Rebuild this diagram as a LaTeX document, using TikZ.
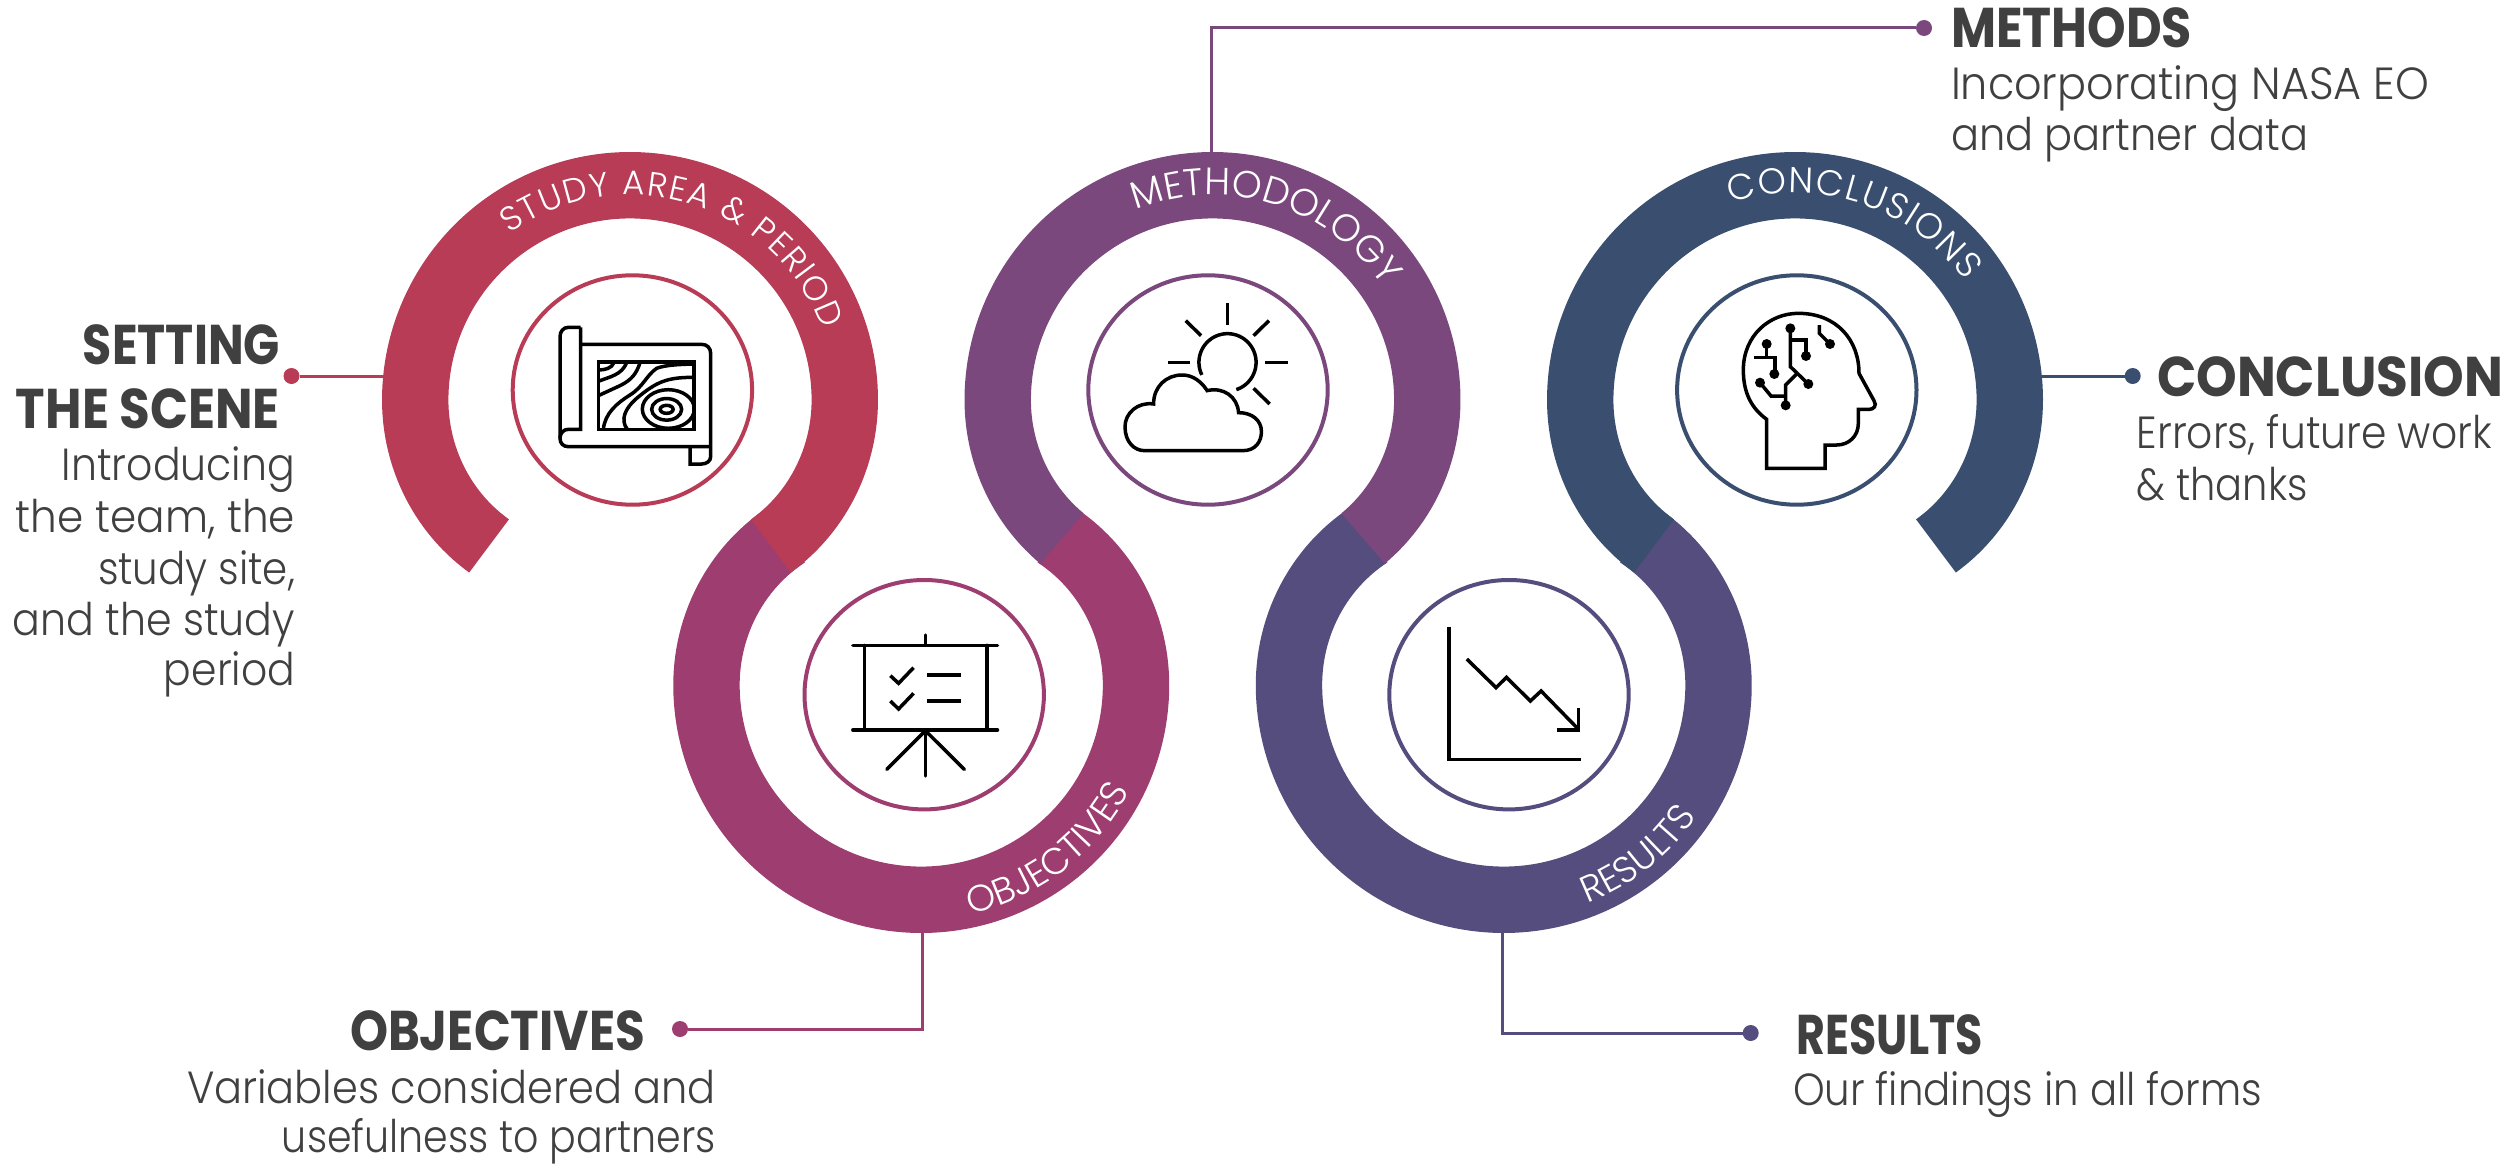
\documentclass[tikz,border=0pt]{standalone}
\usepackage{fontspec}
\usepackage{graphicx}
\usetikzlibrary{shapes.geometric,decorations.text}
\setmainfont{Poppins}
\newfontfamily\bodyfont{Poppins Light}
\newfontfamily\headfont{Poppins}[BoldFont={Poppins Bold}]
\newfontfamily\labelfont{Poppins Light}
\definecolor{cRed}{HTML}{B83C56}
\definecolor{cRose}{HTML}{9E3D6F}
\definecolor{cViolet}{HTML}{7B487D}
\definecolor{cIndigo}{HTML}{544D7D}
\definecolor{cNavy}{HTML}{3A4F70}
\definecolor{cText}{HTML}{404040}
% band: cx cy yscale colour left-end-angle right-end-angle
\newcommand\band[6]{%
 \begin{scope}[shift={(#1,#2)},yscale=#3]
 \draw[line width=66.4pt,color=#4,line cap=butt,line join=round]
  plot[domain={180-#5}:{360+#6},samples=160] ({rr(\x)*cos(\x)},{rr(\x)*sin(\x)});
 \end{scope}}
% curved label: size cx cy radius from to text
\newcommand\curved[7]{%
 \path[postaction={decorate,decoration={text along path,text align={fit to path},
   text={|\fontsize{#1}{#1}\labelfont\color{white}|#7}}}]
  plot[domain=#5:#6,samples=80] ({#2+#4*cos(\x)},{#3+#4*sin(\x)});}
\newcommand\head[2]{\resizebox{#1pt}{\height}{\fontsize{56}{56}\headfont\bfseries #2}}
\newcommand\bodyl[2]{\resizebox{#1pt}{\height}{\fontsize{45}{45}\bodyfont #2}}
\tikzset{
 declare function={rr(\t)=214.8-11.1*(max(0,(\t-360)/44.4))^2-11.1*(max(0,(180-\t)/44.4))^2;},
 iconring/.style={ellipse,draw=#1,line width=4pt,inner sep=0pt,outer sep=0pt,minimum width=239.4pt,minimum height=229.4pt,fill=white},
 conn/.style={line width=3pt,color=#1},
 pin/.style={circle,fill=#1,inner sep=0pt,outer sep=0pt,minimum size=16pt},
 txtW/.style={anchor=base west,inner sep=0pt,outer sep=0pt,text=cText},
 txtE/.style={anchor=base east,inner sep=0pt,outer sep=0pt,text=cText},
 ico/.style={line width=3.5pt,color=black,line join=miter},
}
\begin{document}
\begin{tikzpicture}[x=1pt,y=-1pt]
\useasboundingbox (0,0) rectangle (2512,1164);
% anchors on the bands
\coordinate (aS) at (386,376);
\coordinate (aM) at (1211.5,155);
\coordinate (aC) at (2040,376);
\coordinate (aO) at (922.5,930);
\coordinate (aR) at (1502.5,930);
% pins
\node[pin=cRed] (pS) at (291.5,376) {};
\node[pin=cViolet] (pM) at (1924,28) {};
\node[pin=cNavy] (pC) at (2132.7,376) {};
\node[pin=cRose] (pO) at (680,1029) {};
\node[pin=cIndigo] (pR) at (1750.7,1033) {};
% connectors
\draw[conn=cRed] (pS) -- (aS);
\draw[conn=cViolet] (aM) |- (pM);
\draw[conn=cNavy] (aC) -- (pC);
\draw[conn=cRose] (aO) |- (pO);
\draw[conn=cIndigo] (aR) |- (pR);
% bands
\band{921.25}{685}{-1}{cRose}{48}{48}
\band{1503.75}{685}{-1}{cIndigo}{48}{48}
\band{630}{400}{1}{cRed}{46}{46}
\band{1212.5}{400}{1}{cViolet}{42.6}{42.6}
\band{1795}{400}{1}{cNavy}{46}{46}
% curved labels
\curved{34}{630}{400}{205}{-126}{-20}{STUDY AREA {\&} PERIOD}
\curved{38}{1212.5}{400}{205}{-112}{-34}{METHODOLOGY}
\curved{36}{1795}{400}{207}{-108}{-35}{CONCLUSIONS}
\curved{37}{921.25}{685}{234}{78}{27}{OBJECTIVES}
\curved{37}{1503.75}{685}{234}{69}{34.5}{RESULTS}
% icon rings
\node[iconring=cRed] (i1) at (632.4,390) {};
\node[iconring=cRose] (i2) at (924.2,694.7) {};
\node[iconring=cViolet] (i3) at (1208,390) {};
\node[iconring=cIndigo] (i4) at (1509,694.7) {};
\node[iconring=cNavy] (i5) at (1796.8,390) {};
% map icon
\begin{scope}[shift={(430,200)},x=.33333pt,y=-.33333pt]
 \begin{scope}
  \clip (505,486) rectangle (790,688);
  \draw[ico] (505,510) .. controls (525,510) and (545,505) .. (552,488);
  \draw[ico] (505,544) .. controls (540,530) and (575,525) .. (590,488);
  \draw[ico] (505,587) -- (570,557) .. controls (605,540) and (620,520) .. (630,488);
  \draw[ico] (520,688) .. controls (525,640) and (560,610) .. (600,585)
     .. controls (640,560) and (650,525) .. (680,505) .. controls (705,495) and (750,493) .. (792,492);
  \draw[ico] (592,688) .. controls (570,660) and (585,625) .. (620,595)
     .. controls (680,545) and (710,532) .. (792,532);
  \draw[ico] (715,627) circle[x radius=26pt,y radius=19.3pt];
  \draw[ico] (710,628) circle[x radius=15pt,y radius=10.8pt];
  \draw[ico] (710,628) circle[x radius=6.5pt,y radius=4pt];
 \end{scope}
 \draw[ico] (505,486) rectangle (792,688);
 \draw[ico] (452,382) -- (415,382) .. controls (400,382) and (390,395) .. (390,410) -- (390,715)
   .. controls (390,730) and (400,740) .. (415,740) -- (842,740);
 \draw[ico] (452,382) -- (452,688) -- (415,688) .. controls (400,688) and (390,700) .. (390,715);
 \draw[ico] (452,433) -- (815,433) .. controls (832,433) and (842,445) .. (842,460) -- (842,770)
   .. controls (842,783) and (830,792) .. (815,792) -- (780,792) -- (780,740);
\end{scope}
% easel icon
\begin{scope}[shift={(660,500)},x=.35714pt,y=-.33333pt,line cap=round]
 \draw[ico] (540,436) -- (945,436);
 \draw[ico] (743,405) -- (743,436);
 \draw[ico] (573,436) -- (573,690);
 \draw[ico] (915,436) -- (915,690);
 \draw[ico] (540,690) -- (945,690);
 \draw[ico] (743,692) -- (743,828);
 \draw[ico] (743,692) -- (635,808);
 \draw[ico] (743,692) -- (852,808);
 \draw[ico,line cap=butt] (645,527) -- (668,550) -- (710,503);
 \draw[ico,line cap=butt] (645,603) -- (668,627) -- (710,580);
 \draw[ico,line cap=butt] (748,525) -- (843,525);
 \draw[ico,line cap=butt] (748,603) -- (843,603);
\end{scope}
% cloud icon
\begin{scope}[shift={(950,130)},x=.35714pt,y=-.33333pt]
 \draw[ico] (777,520) -- (777,585);
 \draw[ico] (660,572) -- (703,617);
 \draw[ico] (893,572) -- (850,617);
 \draw[ico] (610,697) -- (672,697);
 \draw[ico] (882,698) -- (945,698);
 \draw[ico] (850,775) -- (895,822);
 \draw[ico] plot[domain=154:432,samples=60] ({777+80*cos(\x)},{697+86*sin(\x)});
 \draw[ico] (545,962) -- (820,962) .. controls (855,962) and (872,935) .. (872,905)
   .. controls (872,870) and (845,848) .. (808,848) .. controls (805,800) and (765,770) .. (720,782)
   .. controls (695,740) and (665,735) .. (650,735) .. controls (605,735) and (570,770) .. (570,822)
   .. controls (525,815) and (490,850) .. (490,890) .. controls (490,935) and (515,962) .. (545,962) -- cycle;
\end{scope}
% chart icon
\begin{scope}[shift={(1240,500)},x=.35714pt,y=-.33333pt]
 \draw[ico] (585,380) -- (585,778) -- (955,778);
 \draw[ico] (635,477) -- (717,563) -- (746,532) -- (813,603) -- (843,573) -- (945,685);
 \draw[ico] (948,625) -- (948,690) -- (888,690);
\end{scope}
% head icon
\begin{scope}[shift={(1640,290)},x=.33333pt,y=-.33333pt]
 \draw[ico] (380,535) -- (380,388) .. controls (335,355) and (310,310) .. (310,240)
   .. controls (310,135) and (390,70) .. (475,70) .. controls (590,70) and (657,150) .. (657,250)
   -- (702,332) .. controls (712,348) and (700,358) .. (688,358) -- (655,358) -- (655,400)
   .. controls (655,440) and (625,465) .. (590,465) -- (555,465) -- (555,535) -- cycle;
 \begin{scope}[line width=2.8pt]
 \draw[ico] (451,115) -- (451,230) -- (505,282);
 \draw[ico] (451,150) -- (498,150) -- (498,198);
 \draw[ico] (470,252) -- (437,285) -- (437,346);
 \draw[ico] (437,318) -- (393,318) -- (360,278);
 \draw[ico] (380,162) -- (380,203);
 \draw[ico] (342,203) -- (405,203) -- (405,252);
 \draw[ico] (538,105) -- (538,130) -- (570,162);
 \end{scope}
 \foreach \dx/\dy in {451/115,505/282,498/198,437/346,360/278,380/162,403/252,570/162}
  \fill[black] (\dx,\dy) circle[radius=5pt];
\end{scope}
% texts
\node[txtE] (t1a) at (280,364) {\head{197}{SETTING}};
\node[txtE] (t1b) at (280,428) {\head{264}{THE SCENE}};
\node[txtE] (t1c) at (295,480.7) {\bodyl{233}{Introducing}};
\node[txtE] (t1d) at (295,532) {\bodyl{279}{the team, the}};
\node[txtE] (t1e) at (295,584) {\bodyl{197}{study site,}};
\node[txtE] (t1f) at (295,635) {\bodyl{282}{and the study}};
\node[txtE] (t1g) at (295,685.6) {\bodyl{131}{period}};
\node[txtW] (t2a) at (350,1050) {\head{295}{OBJECTIVES}};
\node[txtE] (t2b) at (716,1103.5) {\bodyl{529}{Variables considered and}};
\node[txtE] (t2c) at (716,1152.5) {\bodyl{434}{usefulness to partners}};
\node[txtW] (t3a) at (1951,47.7) {\head{241}{METHODS}};
\node[txtW] (t3b) at (1951,99.3) {\bodyl{478}{Incorporating NASA EO}};
\node[txtW] (t3c) at (1951,150) {\bodyl{357}{and partner data}};
\node[txtW] (t4a) at (2157,396) {\head{346}{CONCLUSION}};
\node[txtW] (t4b) at (2136.7,448.3) {\bodyl{355}{Errors, future work}};
\node[txtW] (t4c) at (2136.7,500) {\bodyl{171}{\& thanks}};
\node[txtW] (t5a) at (1796.7,1054) {\head{186}{RESULTS}};
\node[txtW] (t5b) at (1793,1105) {\bodyl{469}{Our findings in all forms}};
\end{tikzpicture}
\end{document}
